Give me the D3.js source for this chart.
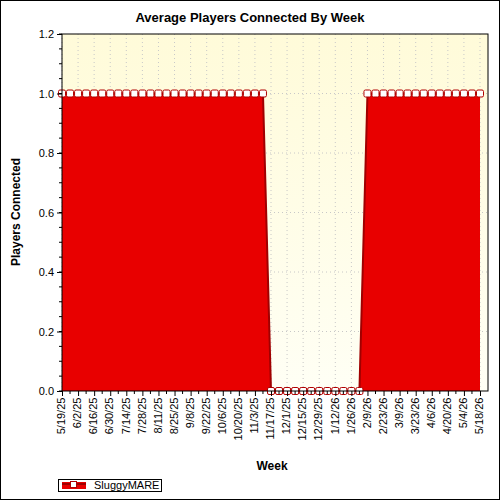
<!DOCTYPE html><html><head><meta charset="utf-8"><script src="https://cdn.jsdelivr.net/npm/d3@7"></script>
<style>body{margin:0}svg{font-family:"Liberation Sans",Arial,sans-serif}</style></head><body><script>
const startDate = "2025-05-19";
const weeks = 53;
const values = [1,1,1,1,1,1,1,1,1,1,1,1,1,1,1,1,1,1,1,1,1,1,1,1,1,1,0,0,0,0,0,0,0,0,0,0,0,0,1,1,1,1,1,1,1,1,1,1,1,1,1,1,1];
const yTicks = [0,0.2,0.4,0.6,0.8,1.0,1.2];
const seriesName = "SluggyMARE";
const t0 = new Date(2025,4,19);
const dates = values.map((v,i)=>new Date(t0.getFullYear(),t0.getMonth(),t0.getDate()+7*i));
const fmt = d=>`${d.getMonth()+1}/${d.getDate()}/${String(d.getFullYear()).slice(2)}`;
const svg=d3.select("body").append("svg").attr("width",500).attr("height",500);
svg.append("rect").attr("x",0.5).attr("y",0.5).attr("width",499).attr("height",499).attr("fill","#fff").attr("stroke","#000");
const L=62,R=488,T=34,B=391;
const x=d3.scaleLinear().domain([0,52]).range([L,480]);
const y=d3.scaleLinear().domain([0,1.2]).range([B,T]);
const defs=svg.append("defs");
const g=defs.append("linearGradient").attr("id","bg").attr("x1",0).attr("y1",0).attr("x2",0).attr("y2",1);
g.append("stop").attr("offset",0).attr("stop-color","#fffbd9");
g.append("stop").attr("offset",1).attr("stop-color","#fffff5");
svg.append("rect").attr("x",L).attr("y",T).attr("width",R-L).attr("height",B-T).attr("fill","url(#bg)");
// grid
yTicks.slice(1,-1).forEach(t=>svg.append("line").attr("x1",L).attr("x2",R).attr("y1",y(t)).attr("y2",y(t)).attr("stroke","#c8c8c8").attr("stroke-dasharray","1,3"));
for(let i=0;i<weeks;i+=2) svg.append("line").attr("x1",x(i)).attr("x2",x(i)).attr("y1",T).attr("y2",B).attr("stroke","#c8c8c8").attr("stroke-dasharray","1,3");
// area
const area=d3.area().x((d,i)=>x(i)).y0(y(0)).y1(d=>y(d));
svg.append("path").datum(values).attr("d",area).attr("fill","#e80000");
svg.append("path").datum(values).attr("d",d3.line().x((d,i)=>x(i)).y(d=>y(d))).attr("fill","none").attr("stroke","#a00000").attr("stroke-width",2);
svg.selectAll("rect.m").data(values).enter().append("rect").attr("x",(d,i)=>x(i)-3.5).attr("y",d=>y(d)-3.5).attr("width",7).attr("height",7).attr("rx",1.5).attr("fill","#fff").attr("stroke","#b00000");
svg.append("rect").attr("x",L).attr("y",T).attr("width",R-L).attr("height",B-T).attr("fill","none").attr("stroke","#000");
// y axis
const ya=svg.append("g").attr("transform",`translate(${L},0)`).call(d3.axisLeft(y).tickValues(yTicks).tickFormat(d3.format(".1f")).tickSize(5));
ya.select(".domain").remove();
ya.selectAll("text").attr("font-size",11).attr("fill","#000");
d3.range(0,1.2001,0.05).forEach(t=>svg.append("line").attr("x1",L-3).attr("x2",L).attr("y1",y(t)).attr("y2",y(t)).attr("stroke","#000"));
// x axis
const xa=svg.append("g").attr("transform",`translate(0,${B})`).call(d3.axisBottom(x).tickValues(d3.range(0,weeks,2)).tickFormat(i=>fmt(dates[i])).tickSize(5));
xa.select(".domain").remove();
xa.selectAll("text").attr("font-size",11).attr("fill","#000").attr("transform","rotate(-90)").attr("text-anchor","end").attr("dx","-0.6em").attr("dy","-0.3em").attr("x",0).attr("y",6);
d3.range(1,weeks,2).forEach(i=>svg.append("line").attr("x1",x(i)).attr("x2",x(i)).attr("y1",B).attr("y2",B+3).attr("stroke","#000"));
svg.append("text").attr("x",250).attr("y",22).attr("text-anchor","middle").attr("font-size",13).attr("font-weight","bold").text("Average Players Connected By Week");
svg.append("text").attr("x",272).attr("y",470).attr("text-anchor","middle").attr("font-size",12).attr("font-weight","bold").text("Week");
svg.append("text").attr("transform","translate(20,212) rotate(-90)").attr("text-anchor","middle").attr("font-size",12).attr("font-weight","bold").text("Players Connected");
// legend
svg.append("rect").attr("x",58.5).attr("y",479.5).attr("width",103).attr("height",12).attr("fill","#fff").attr("stroke","#000");
svg.append("rect").attr("x",62).attr("y",482).attr("width",24).attr("height",7).attr("fill","#e80000");
svg.append("line").attr("x1",62).attr("x2",86).attr("y1",484).attr("y2",484).attr("stroke","#a00000").attr("stroke-width",2);
svg.append("rect").attr("x",70.5).attr("y",481.5).attr("width",6).attr("height",6).attr("fill","#fff").attr("stroke","#b00000");
svg.append("text").attr("x",94).attr("y",489).attr("font-size",11).text(seriesName);
</script></body></html>
